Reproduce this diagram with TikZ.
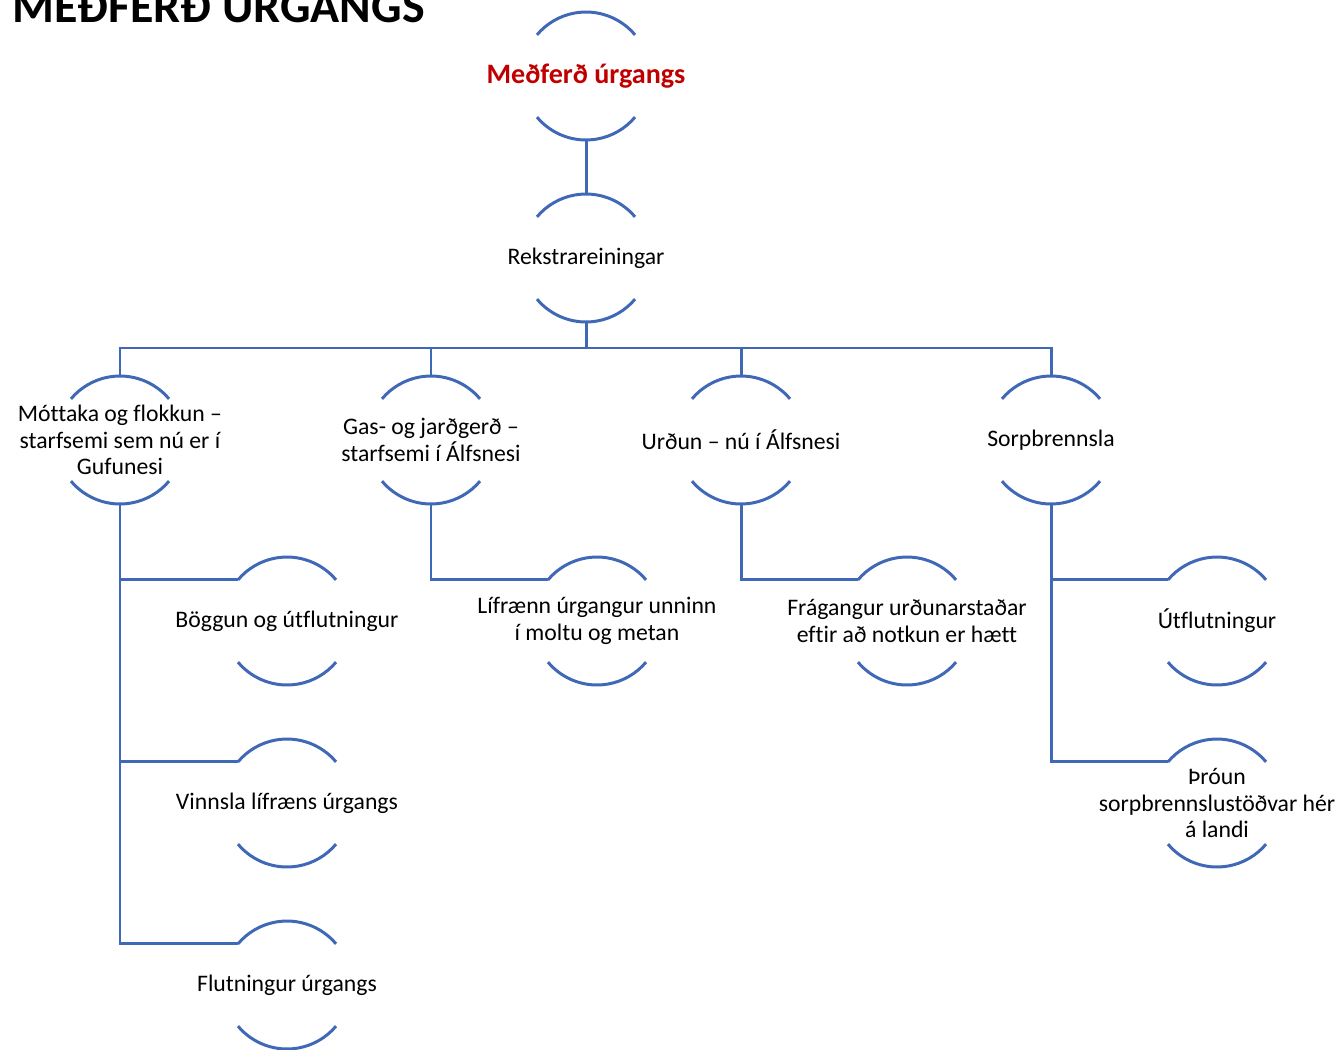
\documentclass[tikz,border=0pt]{standalone}
\usepackage{fontspec}
\setmainfont{Carlito}[Ligatures=NoCommon]
\usepackage{xcolor}
\usetikzlibrary{positioning,calc}
\definecolor{linkblue}{HTML}{3F68B6}
\definecolor{headred}{HTML}{C00000}

\begin{document}
\begin{tikzpicture}[
  x=0.02cm, y=-0.02cm,
  bub/.style={circle, minimum size=2.56cm, inner sep=0pt, outer sep=0pt},
  txt/.style={align=center, inner sep=0pt, font=\fontsize{13.5}{15.1}\selectfont},
  link/.style={draw=linkblue, line width=1.7pt},
  rim/.style={draw=linkblue, line width=1.7pt}
]
\useasboundingbox (0,0) rectangle (1339,1049);
\clip (0,0) rectangle (1339,1049);

\node[anchor=base west, inner sep=0pt, font=\fontsize{27.3}{30}\selectfont\bfseries] (title) at (12,22) {MEÐFERÐ ÚRGANGS};

% bubbles
\node[bub] (top) at (586,76) {};
\node[bub] (rek) at (586,258) {};
\node[bub] (mot) at (120,440) {};
\node[bub] (gas) at (431,440) {};
\node[bub] (urd) at (741,440) {};
\node[bub] (sorp) at (1051,440) {};
\node[bub] (bog) at (287,621) {};
\node[bub] (vin) at (287,803) {};
\node[bub] (flu) at (287,985) {};
\node[bub] (lif) at (597,621) {};
\node[bub] (fra) at (907,621) {};
\node[bub] (utf) at (1217,621) {};
\node[bub] (thr) at (1217,803) {};

% texts
\node[txt, font=\fontsize{16}{18}\selectfont\bfseries, text=headred] (topt) at (top) {Meðferð úrgangs};
\node[txt] (rekt) at (rek) {Rekstrareiningar};
\node[txt] (mott) at (mot) {Móttaka og flokkun –\\starfsemi sem nú er í\\Gufunesi};
\node[txt] (gast) at (gas) {Gas- og jarðgerð –\\starfsemi í Álfsnesi};
\node[txt] (urdt) at (urd) {Urðun – nú í Álfsnesi};
\node[txt] (sorpt) at (sorp) {Sorpbrennsla};
\node[txt] (bogt) at (bog) {Böggun og útflutningur};
\node[txt] (vint) at (vin) {Vinnsla lífræns úrgangs};
\node[txt] (flut) at (flu) {Flutningur úrgangs};
\node[txt] (lift) at (lif) {Lífrænn úrgangur unninn\\í moltu og metan};
\node[txt] (frat) at (fra) {Frágangur urðunarstaðar\\eftir að notkun er hætt};
\node[txt] (utft) at (utf) {Útflutningur};
\node[txt] (thrt) at (thr) {Þróun\\sorpbrennslustöðvar hér\\á landi};

% rims
\foreach \n in {top,rek,mot,gas,urd,sorp,bog,vin,flu,lif,fra,utf,thr} {
  \draw[rim] (\n.40) arc[start angle=40, end angle=140, radius=1.28cm];
  \draw[rim] (\n.220) arc[start angle=220, end angle=320, radius=1.28cm];
}

% links
\draw[link] (top.south) -- (rek.north);
\foreach \c in {mot,gas,urd,sorp}
  \draw[link] (rek.south) -- ++(0,26) -| (\c.north);
\foreach \p/\c in {mot/bog,mot/vin,mot/flu,gas/lif,urd/fra,sorp/utf,sorp/thr}
  \draw[link] (\p.south) |- (\c.140);
\end{tikzpicture}
\end{document}
